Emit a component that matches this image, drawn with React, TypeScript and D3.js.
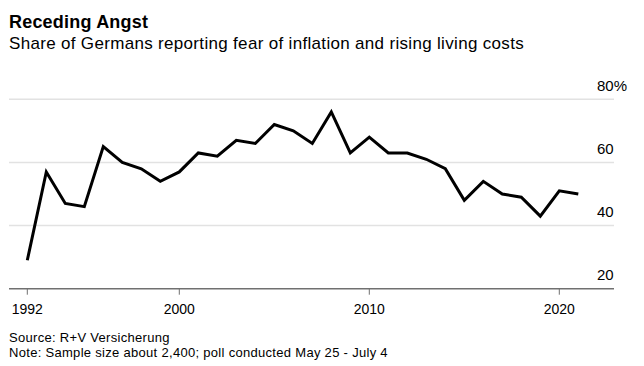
import * as d3 from 'd3';

const years = [
  1992, 1993, 1994, 1995, 1996, 1997, 1998, 1999, 2000, 2001, 2002, 2003, 2004, 2005, 2006, 2007,
  2008, 2009, 2010, 2011, 2012, 2013, 2014, 2015, 2016, 2017, 2018, 2019, 2020, 2021,
];
const fearShare = [
  29, 57, 47, 46, 65, 60, 58, 54, 57, 63, 62, 67, 66, 72, 70, 66,
  76, 63, 68, 63, 63, 61, 58, 48, 54, 50, 49, 43, 51, 50,
];
const yTicks = [20, 40, 60, 80];
const xTicks = [1992, 2000, 2010, 2020];

const WIDTH = 644;
const HEIGHT = 366;
const FONT = '"Liberation Sans", Arial, sans-serif';

export default function App() {
  const x = d3.scaleLinear().domain([1992, 2020]).range([27.3, 559.3]);
  const y = d3.scaleLinear().domain([20, 80]).range([288.7, 99.3]);
  const gridLeft = 9;
  const gridRight = 614;

  const line = d3
    .line<number>()
    .x((_, i) => x(years[i]))
    .y((d) => y(d));

  return (
    <svg
      width={WIDTH}
      height={HEIGHT}
      style={{ position: 'absolute', left: 0, top: 0, background: '#fff' }}
      fontFamily={FONT}
    >
      <text x={9} y={27.5} fontSize={18} fontWeight="bold" letterSpacing={0.2} fill="#000">
        Receding Angst
      </text>
      <text x={9} y={48.5} fontSize={17} letterSpacing={0.32} fill="#000">
        Share of Germans reporting fear of inflation and rising living costs
      </text>

      {yTicks
        .filter((t) => t !== 20)
        .map((t) => (
          <line key={t} x1={gridLeft} x2={gridRight} y1={y(t)} y2={y(t)} stroke="#e2e2e2" strokeWidth={1.5} />
        ))}
      {yTicks.map((t) => (
        <text key={'l' + t} x={597} y={y(t) - 8.8} fontSize={15} fill="#000">
          {t === 80 ? t + '%' : t}
        </text>
      ))}

      <line x1={gridLeft} x2={gridRight} y1={y(20)} y2={y(20)} stroke="#707070" strokeWidth={1.5} />
      {xTicks.map((t) => (
        <g key={t}>
          <line x1={x(t)} x2={x(t)} y1={y(20)} y2={y(20) + 6} stroke="#707070" strokeWidth={1} />
          <text x={x(t)} y={313.5} fontSize={14} textAnchor="middle" fill="#000">
            {t}
          </text>
        </g>
      ))}

      <path d={line(fearShare) ?? ''} fill="none" stroke="#000" strokeWidth={3} strokeLinejoin="miter" />

      <text x={9} y={342} fontSize={13} letterSpacing={0.3} fill="#000">
        Source: R+V Versicherung
      </text>
      <text x={9} y={356.8} fontSize={13} letterSpacing={0.3} fill="#000">
        Note: Sample size about 2,400; poll conducted May 25 - July 4
      </text>
    </svg>
  );
}
